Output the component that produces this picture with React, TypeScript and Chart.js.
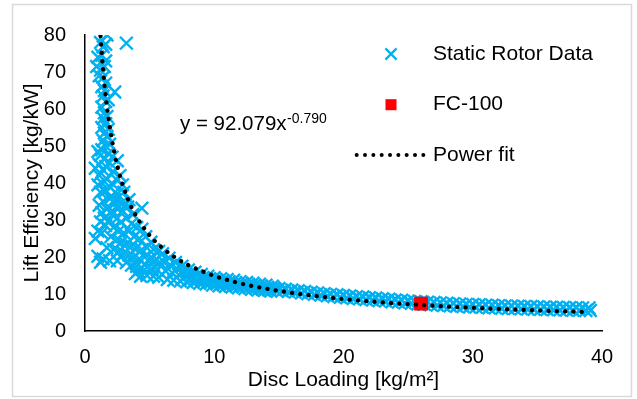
import { useEffect, useRef } from 'react';
import { Chart, registerables } from 'chart.js';

Chart.register(...registerables);

// ---- data ----
const rotorColumn: [number, number][] = [
  [1.7, 80], [3.2, 77.8], [1.4, 76.8], [1.2, 78], [1.6, 77.5], [1.0, 74], [1.3, 74.5], [1.6, 73],
  [0.9, 71.5], [1.5, 71.5], [1.2, 70.5], [1.1, 69], [1.4, 68.5], [1.6, 67], [1.3, 66], [2.3, 64.6],
  [1.5, 65], [1.4, 63.5], [1.6, 62], [1.3, 60.5], [1.5, 59], [1.4, 57.5], [1.6, 56], [1.3, 55],
  [1.5, 53.5], [1.7, 52.5], [1.4, 51.5], [1.6, 50], [1.3, 49], [1.2, 47.5], [1.8, 48], [1.5, 46.5],
  [2.5, 46], [1.1, 45], [1.9, 45.5], [1.4, 43.5], [2.2, 43], [1.1, 42], [2.7, 42], [1.7, 41],
  [1.3, 40], [2.2, 39.5], [2.9, 39.5], [1.6, 38], [1.2, 37.5], [2.5, 37], [3.4, 35.5], [1.9, 36],
  [1.4, 35], [2.8, 34.5], [1.7, 33], [1.3, 32], [2.1, 32.5], [1.5, 30.5], [1.2, 29.5], [1.9, 30],
  [1.8, 62.5], [1.7, 58], [1.8, 54.5], [1.9, 50.5], [1.0, 48.5], [2.1, 47], [0.8, 44], [1.6, 44.5],
  [2.4, 41], [1.0, 39.5], [1.9, 39], [3.0, 37.5], [2.3, 35.5], [1.1, 34], [2.5, 33], [3.1, 34],
];

const rotorKnee: [number, number][] = [
  [2.0, 36], [2.3, 34.5], [2.6, 33.5], [2.9, 32.5], [3.3, 33.5], [3.7, 31.5], [4.4, 33.2],
  [2.1, 31.5], [2.5, 30.5], [2.8, 29.5], [3.2, 30.5], [3.6, 29], [4.0, 28], [4.4, 27.5],
  [2.2, 28], [2.6, 27], [3.0, 26.5], [3.4, 27], [3.8, 25.5], [4.2, 25], [4.7, 25.5], [5.1, 24],
  [2.4, 24.5], [2.8, 24], [3.2, 23.5], [3.6, 23], [4.0, 22.5], [4.4, 22], [4.8, 22.5], [5.3, 22], [5.7, 21.5],
  [2.6, 21.5], [3.0, 21], [3.4, 20.5], [3.8, 20], [4.2, 19.5], [4.6, 20], [5.0, 19.5], [5.4, 19], [5.8, 18.5],
  [3.2, 18.5], [3.6, 17.8], [4.0, 17.5], [4.4, 17], [4.8, 17.3], [5.2, 16.8], [5.6, 16.5],
  [3.9, 15.5], [4.3, 14.8], [4.8, 15], [5.3, 14.8], [5.7, 14.5], [4.1, 16.2],
  [1.0, 27], [1.3, 26.5], [0.8, 25], [1.6, 28.5], [2.0, 25.5], [1.0, 20.2], [1.4, 19.5],
  [1.9, 19], [1.2, 18.6], [2.5, 19], [1.7, 22.5], [2.2, 22],
];

const rotorMid: [number, number][] = [
  [6.0, 20.9], [6.12, 18.6], [6.25, 16.2], [6.37, 13.9],
  [6.5, 19.7], [6.62, 17.7], [6.75, 15.7], [6.87, 13.7],
  [7.0, 18.5], [7.12, 16.8], [7.25, 15.2], [7.37, 13.5],
  [7.5, 17.5], [7.62, 16.1], [7.75, 14.7], [7.87, 13.3],
  [8.0, 16.5], [8.12, 15.4], [8.25, 14.2], [8.37, 13.1],
  [8.5, 15.9], [8.62, 14.9], [8.75, 13.9], [8.87, 12.9],
  [9.0, 15.3], [9.12, 14.4], [9.25, 13.6], [9.37, 12.7],
  [9.5, 14.8], [9.62, 14.0], [9.75, 13.2], [9.87, 12.4],
  [10.0, 14.4], [10.12, 13.7], [10.25, 12.9], [10.37, 12.2],
  [10.5, 14.15], [10.62, 13.45], [10.75, 12.75], [10.87, 12.05],
  [11.0, 13.9], [11.12, 13.2], [11.25, 12.6], [11.37, 11.9],
  [11.5, 13.7], [11.62, 13.0], [11.75, 12.4], [11.87, 11.7],
  [12.0, 13.35], [12.12, 12.7], [12.25, 12.1], [12.37, 11.45],
  [12.5, 13.1], [12.62, 12.5], [12.75, 11.9], [12.87, 11.3],
  [13.0, 12.9], [13.12, 12.3], [13.25, 11.7], [13.37, 11.1],
  [13.5, 12.65], [13.62, 12.1], [13.75, 11.5], [13.87, 10.95],
  [14.0, 12.4], [14.12, 11.85], [14.25, 11.35], [14.37, 10.8],
  [14.5, 12.1], [14.62, 11.65], [14.75, 11.15], [14.87, 10.7],
];

const rotorTail: [number, number][] = [
  [15.0, 11.5], [15.25, 10.9], [15.5, 11.3], [15.75, 10.7], [16.0, 11.1], [16.25, 10.5],
  [16.5, 10.9], [16.75, 10.3], [17.0, 10.7], [17.25, 10.1], [17.5, 10.5], [17.75, 9.9],
  [18.0, 10.3], [18.25, 9.7], [18.5, 10.1], [18.75, 9.5], [19.0, 9.9], [19.25, 9.3],
  [19.5, 9.8], [19.75, 9.1], [20.0, 9.6], [20.25, 9.0], [20.5, 9.5], [20.75, 8.8],
  [21.0, 9.3], [21.25, 8.7], [21.5, 9.2], [21.75, 8.5], [22.0, 9.0], [22.25, 8.4],
  [22.5, 8.9], [22.75, 8.2], [23.0, 8.7], [23.25, 8.1], [23.5, 8.6], [23.75, 7.9],
  [24.0, 8.4], [24.25, 7.8], [24.5, 8.3], [24.75, 7.6], [25.0, 8.1], [25.25, 7.5],
  [25.5, 8.0], [25.75, 7.3], [26.0, 7.9], [26.25, 7.2], [26.5, 7.8], [26.75, 7.1],
  [27.0, 7.7], [27.25, 7.0], [27.5, 7.6], [27.75, 6.9], [28.0, 7.5], [28.25, 6.8],
  [28.5, 7.4], [28.75, 6.7], [29.0, 7.3], [29.25, 6.6], [29.5, 7.2], [29.75, 6.5],
  [30.0, 7.15], [30.25, 6.45], [30.5, 7.1], [30.75, 6.4], [31.0, 7.0], [31.25, 6.3],
  [31.5, 6.95], [31.75, 6.25], [32.0, 6.85], [32.25, 6.15], [32.5, 6.8], [32.75, 6.1],
  [33.0, 6.75], [33.25, 6.05], [33.5, 6.7], [33.75, 6.0], [34.0, 6.65], [34.25, 5.95],
  [34.5, 6.6], [34.75, 5.9], [35.0, 6.55], [35.25, 5.85], [35.5, 6.5], [35.75, 5.8],
  [36.0, 6.4], [36.25, 5.75], [36.5, 6.4], [36.75, 5.7], [37.0, 6.35], [37.25, 5.65],
  [37.5, 6.3], [37.75, 5.6], [38.0, 6.3], [38.25, 5.6], [38.5, 6.25], [38.75, 5.55],
  [39.0, 6.25], [39.1, 5.55],
];

const fc100X = [26.0];
const fc100Y = [7.4];

const fitX = [1.2, 1.3, 1.5, 1.75, 2, 2.5, 3, 3.5, 4, 5, 6, 7, 8, 10, 12, 14, 17, 20, 24, 28, 32, 36, 39];
const fitY = [79.7, 74.8, 66.8, 59.2, 53.3, 44.6, 38.7, 34.2, 30.8, 25.8, 22.4, 19.8, 17.8, 14.9, 12.9, 11.45, 9.82, 8.64, 7.48, 6.62, 5.96, 5.43, 5.1];

const seriesLabels = ['Static Rotor Data', 'FC-100', 'Power fit'];
const xTitle = 'Disc Loading [kg/m²]';
const yTitle = 'Lift Efficiency [kg/kW]';
const eqMain = 'y = 92.079x';
const eqExp = '-0.790';

const FONT = "'Liberation Sans', Arial, sans-serif";
const BLUE = '#00B0F0';

const framePlugin = {
  id: 'frame',
  beforeDraw(chart: any) {
    const ctx = chart.ctx;
    ctx.save();
    ctx.fillStyle = '#ffffff';
    ctx.fillRect(0, 0, chart.width, chart.height);
    ctx.strokeStyle = '#d9d9d9';
    ctx.lineWidth = 1.5;
    ctx.strokeRect(12.5, 4.5, 619, 392);
    ctx.restore();
  },
};

const overlayPlugin = {
  id: 'overlay',
  afterDraw(chart: any) {
    const ctx = chart.ctx;
    const ds = chart.data.datasets;
    const rows = [54, 104.7, 155];
    const symX = 391;
    const textX = 433;
    ctx.save();
    // cross symbol
    ctx.strokeStyle = ds[0].borderColor;
    ctx.lineWidth = 2.2;
    const h = 5.6;
    ctx.beginPath();
    ctx.moveTo(symX - h, rows[0] - h);
    ctx.lineTo(symX + h, rows[0] + h);
    ctx.moveTo(symX + h, rows[0] - h);
    ctx.lineTo(symX - h, rows[0] + h);
    ctx.stroke();
    // square symbol
    ctx.fillStyle = ds[1].backgroundColor;
    ctx.fillRect(symX - 5.5, rows[1] - 5.5, 11, 11);
    // dotted symbol
    ctx.fillStyle = '#000';
    for (let i = 0; i < 9; i++) {
      ctx.beginPath();
      ctx.arc(356.7 + i * 8.33, rows[2], 2.0, 0, Math.PI * 2);
      ctx.fill();
    }
    // labels
    ctx.font = `21px ${FONT}`;
    ctx.textBaseline = 'middle';
    ctx.textAlign = 'left';
    ctx.fillStyle = '#000';
    ds.forEach((d: any, i: number) => ctx.fillText(d.label, textX, rows[i]));
    // equation
    ctx.textBaseline = 'alphabetic';
    ctx.font = `20.5px ${FONT}`;
    ctx.fillText(eqMain, 180, 130);
    const w = ctx.measureText(eqMain).width;
    ctx.font = `14px ${FONT}`;
    ctx.fillText(eqExp, 180 + w + 0.5, 123);
    ctx.restore();
  },
};

const toPoints = (arr: [number, number][]) => arr.map(([x, y]) => ({ x, y }));

export default function App() {
  const ref = useRef<HTMLCanvasElement | null>(null);

  useEffect(() => {
    if (!ref.current) return;
    const rotor = [...rotorColumn, ...rotorKnee, ...rotorMid, ...rotorTail];
    const chart = new Chart(ref.current, {
      type: 'scatter',
      data: {
        datasets: [
          {
            label: seriesLabels[0],
            data: toPoints(rotor),
            pointStyle: 'crossRot',
            pointRadius: 9,
            pointHoverRadius: 9,
            borderWidth: 2.4,
            borderColor: BLUE,
            backgroundColor: BLUE,
            order: 2,
          } as any,
          {
            label: seriesLabels[1],
            data: fc100X.map((x, i) => ({ x, y: fc100Y[i] })),
            pointStyle: 'rect',
            pointRadius: 9.8,
            pointHoverRadius: 9.8,
            borderWidth: 0,
            backgroundColor: '#FF0000',
            borderColor: '#FF0000',
            order: 1,
          } as any,
          {
            label: seriesLabels[2],
            data: fitX.map((x, i) => ({ x, y: fitY[i] })),
            showLine: true,
            pointRadius: 0,
            borderColor: '#000',
            borderWidth: 4.3,
            borderDash: [0.1, 8.2],
            borderCapStyle: 'round',
            cubicInterpolationMode: 'monotone',
            fill: false,
            order: 0,
          } as any,
        ],
      },
      options: {
        responsive: false,
        animation: false,
        layout: { padding: { left: 12, right: 35, top: 35, bottom: 6 } },
        plugins: {
          legend: { display: false },
          tooltip: { enabled: false },
        },
        scales: {
          x: {
            type: 'linear',
            min: 0,
            max: 40,
            ticks: { stepSize: 10, color: '#000', font: { family: FONT, size: 20 }, padding: 14 },
            grid: { display: false, drawTicks: false },
            border: { display: true, color: '#000', width: 1.5 },
            title: {
              display: true,
              text: xTitle,
              color: '#000',
              font: { family: FONT, size: 21 },
              padding: { top: 0, bottom: 0 },
            },
            afterFit: (s: any) => {
              s.height = 62;
            },
          },
          y: {
            type: 'linear',
            min: 0,
            max: 80,
            ticks: { stepSize: 10, color: '#000', font: { family: FONT, size: 20 }, padding: 19 },
            grid: { display: false, drawTicks: false },
            border: { display: true, color: '#000', width: 1.5 },
            title: {
              display: true,
              text: yTitle,
              color: '#000',
              font: { family: FONT, size: 21 },
              padding: { top: 8, bottom: 0 },
            },
            afterFit: (s: any) => {
              s.width = 73;
            },
          },
        },
      } as any,
      plugins: [framePlugin, overlayPlugin],
    });
    return () => chart.destroy();
  }, []);

  return (
    <div style={{ position: 'fixed', left: 0, top: 0, width: 637, height: 399 }}>
      <canvas ref={ref} width={637} height={399} style={{ width: 637, height: 399, display: 'block' }} />
    </div>
  );
}
